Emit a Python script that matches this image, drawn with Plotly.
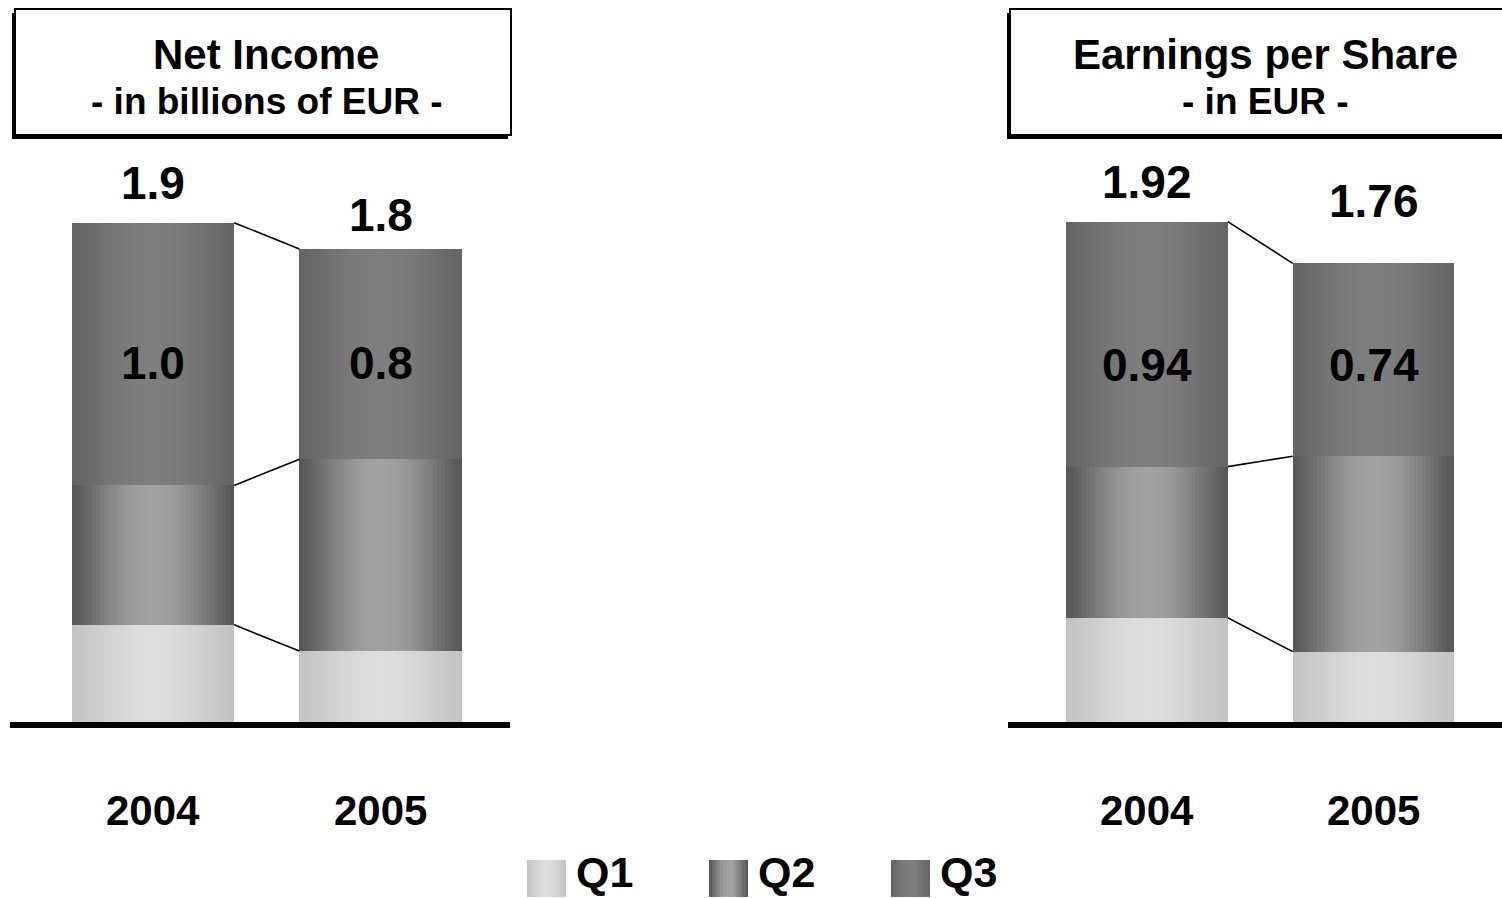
import numpy as np
import plotly.graph_objects as go

# ---- data -----------------------------------------------------------------
YEARS = ["2004", "2005"]
QUARTERS = ["Q1", "Q2", "Q3"]

# Net income, billions of EUR, quarterly contributions per year
NI_Q1 = [0.37, 0.27]
NI_Q2 = [0.53, 0.73]
NI_Q3 = [1.00, 0.80]

# Earnings per share, EUR, quarterly contributions per year
EPS_Q1 = [0.40, 0.27]
EPS_Q2 = [0.58, 0.75]
EPS_Q3 = [0.94, 0.74]

NI_TITLE = ["Net Income", "- in billions of EUR -"]
EPS_TITLE = ["Earnings per Share", "- in EUR -"]

# ---- styling ----------------------------------------------------------------
W, H = 1502, 898
FONT = "Liberation Sans, Arial, Helvetica, sans-serif"
BASELINE_PX = 722          # pixel row of the value 0 line
BAR_W = 0.713              # bar width in category units
N_SLICES = 40              # vertical slices used to build the cylinder shading

# (edge grey, centre grey) per quarter
SHADES = {0: (194, 221), 1: (86, 162), 2: (100, 126)}


def shade(q, t):
    edge, centre = SHADES[q]
    v = edge + (centre - edge) * np.sin(np.pi * t) ** 1.2
    return f"rgb({v:.0f},{v:.0f},{v:.0f})"


def px_x(px):
    return px / W


def px_y(py):
    return 1 - py / H


PANELS = [
    dict(name="ni", q=(NI_Q1, NI_Q2, NI_Q3), title=NI_TITLE, fmt="{:.1f}",
         xa="x", ya="y", dom=(10, 510), centre=153, unit=227.5, ppu=262.8,
         lift=[40, 34], mid_drop=[9, 9]),
    dict(name="eps", q=(EPS_Q1, EPS_Q2, EPS_Q3), title=EPS_TITLE, fmt="{:.2f}",
         xa="x2", ya="y2", dom=(1008, 1502), centre=1147, unit=226.5, ppu=260.6,
         lift=[40, 62], mid_drop=[21, 5]),
]

fig = go.Figure()
annotations = []
shapes = []


def label(**kw):
    kw.setdefault("showarrow", False)
    kw.setdefault("xanchor", "center")
    kw.setdefault("yanchor", "middle")
    annotations.append(kw)


for p in PANELS:
    q1, q2, q3 = (np.array(a, dtype=float) for a in p["q"])
    heights = [q1, q2, q3]
    bases = [np.zeros_like(q1), q1, q1 + q2]
    totals = q1 + q2 + q3

    xs, ys, bs, qs = [], [], [], []
    for q in range(3):
        for i in range(len(YEARS)):
            xs.append(i)
            ys.append(heights[q][i])
            bs.append(bases[q][i])
            qs.append(q)

    step = BAR_W / N_SLICES
    for k in range(N_SLICES):
        t = (k + 0.5) / N_SLICES
        width = step * 1.4 if k < N_SLICES - 1 else step
        fig.add_trace(go.Bar(
            x=xs, y=ys, base=bs,
            offset=-BAR_W / 2 + k * step, width=width,
            marker=dict(color=[shade(q, t) for q in qs], line=dict(width=0)),
            xaxis=p["xa"], yaxis=p["ya"],
            showlegend=False, hoverinfo="skip",
        ))

    # connector lines between the stacked segment tops of the two years
    for cum in (bases[1], bases[2], totals):
        fig.add_trace(go.Scatter(
            x=[BAR_W / 2, 1 - BAR_W / 2], y=[cum[0], cum[1]],
            mode="lines", line=dict(color="black", width=1.6),
            xaxis=p["xa"], yaxis=p["ya"], showlegend=False, hoverinfo="skip",
        ))

    xref, yref = p["xa"], p["ya"]
    for i in range(len(YEARS)):
        label(x=i, y=totals[i], xref=xref, yref=yref, yshift=p["lift"][i],
              text=f"<b>{p['fmt'].format(totals[i])}</b>",
              font=dict(family=FONT, size=46, color="black"))
        label(x=i, y=bases[2][i] + q3[i] / 2, xref=xref, yref=yref,
              yshift=-p["mid_drop"][i],
              text=f"<b>{p['fmt'].format(q3[i])}</b>",
              font=dict(family=FONT, size=46, color="black"))
        label(x=i, y=0, xref=xref, yref=yref, yshift=-88,
              text=f"<b>{YEARS[i]}</b>",
              font=dict(family=FONT, size=42, color="black"))

    # axis geometry in pixels
    x0, x1 = p["dom"]
    lo = (x0 - p["centre"]) / p["unit"]
    hi = (x1 - p["centre"]) / p["unit"]
    axis_common = dict(showgrid=False, zeroline=False, showticklabels=False,
                       ticks="", fixedrange=True)
    fig.update_layout(**{
        ("xaxis" if p["xa"] == "x" else "xaxis2"): dict(
            domain=[px_x(x0), px_x(x1)], range=[lo, hi],
            showline=True, linewidth=6, linecolor="black",
            anchor=p["ya"], **axis_common),
        ("yaxis" if p["ya"] == "y" else "yaxis2"): dict(
            domain=[px_y(BASELINE_PX), 1], range=[0, BASELINE_PX / p["ppu"]],
            anchor=p["xa"], visible=False, **axis_common),
    })

# ---- title boxes ----------------------------------------------------------
TITLE_BOXES = [
    dict(box=(15, 9, 511, 135), text_x=266, title=NI_TITLE),
    dict(box=(1010, 9, 1530, 135), text_x=1265, title=EPS_TITLE),
]
for tb in TITLE_BOXES:
    bx0, by0, bx1, by1 = tb["box"]
    shapes.append(dict(type="rect", xref="paper", yref="paper",
                       x0=px_x(bx0 - 3), x1=px_x(bx1 - 3),
                       y0=px_y(by0 + 4), y1=px_y(by1 + 4),
                       fillcolor="black", line=dict(width=0)))
    shapes.append(dict(type="rect", xref="paper", yref="paper",
                       x0=px_x(bx0), x1=px_x(bx1), y0=px_y(by0), y1=px_y(by1),
                       fillcolor="white", line=dict(color="black", width=2)))
    label(x=px_x(tb["text_x"]), y=px_y(54), xref="paper", yref="paper",
          text=f"<b>{tb['title'][0]}</b>",
          font=dict(family=FONT, size=42, color="black"))
    label(x=px_x(tb["text_x"]), y=px_y(102), xref="paper", yref="paper",
          text=f"<b>{tb['title'][1]}</b>",
          font=dict(family=FONT, size=37, color="black"))

# ---- legend with shaded swatches ------------------------------------------
LEG_X0, LEG_STEP, SW_W, SW_Y0, SW_Y1 = 527, 182, 39, 860, 897
LEG_SLICES = 14
for q, name in enumerate(QUARTERS):
    sx = LEG_X0 + q * LEG_STEP
    sl = SW_W / LEG_SLICES
    for k in range(LEG_SLICES):
        t = (k + 0.5) / LEG_SLICES
        extra = 0.6 if k < LEG_SLICES - 1 else 0
        shapes.append(dict(type="rect", xref="paper", yref="paper",
                           x0=px_x(sx + k * sl), x1=px_x(sx + (k + 1) * sl + extra),
                           y0=px_y(SW_Y0), y1=px_y(SW_Y1),
                           fillcolor=shade(q, t), line=dict(width=0)))
    label(x=px_x(sx + SW_W + 8), y=0, xref="paper", yref="paper",
          xanchor="left", yanchor="bottom", text=f"<b>{name}</b>",
          font=dict(family=FONT, size=43, color="black"))

fig.update_layout(
    width=W, height=H,
    margin=dict(l=0, r=0, t=0, b=0),
    paper_bgcolor="white", plot_bgcolor="rgba(0,0,0,0)",
    barmode="overlay", bargap=0,
    showlegend=False,
    annotations=annotations,
    shapes=shapes,
)

fig.write_html("out.html", config={"displayModeBar": False})
